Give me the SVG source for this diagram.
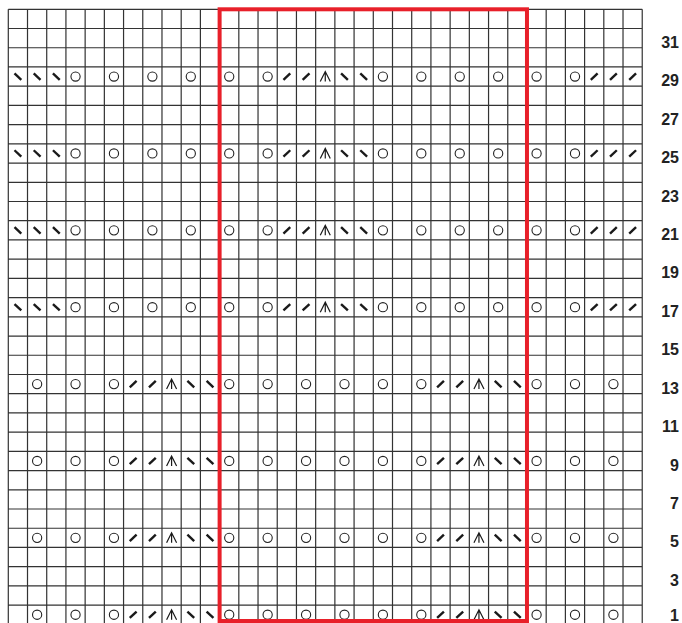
<svg xmlns="http://www.w3.org/2000/svg" xmlns:xlink="http://www.w3.org/1999/xlink" width="682" height="623" viewBox="0 0 682 623">
<style>
.grid{fill:none;stroke:#333;stroke-width:1.2}
.yo{fill:none;stroke:#222;stroke-width:1.1}
.dec{fill:none;stroke:#1a1a1a;stroke-width:2.4;stroke-linecap:butt}
.cdd{fill:none;stroke:#1a1a1a;stroke-width:1.2}
.lbl{font-family:"Liberation Sans",Arial,sans-serif;font-weight:bold;font-size:16px;fill:#222;text-anchor:end}
.frame{fill:none;stroke:#e8202a;stroke-width:4}
</style>
<defs>
<circle id="o" r="4.6" class="yo"/>
<path id="k" d="M-3.4,3.2 L3.4,-3.2" class="dec"/>
<path id="s" d="M-3.4,-3.2 L3.4,3.2" class="dec"/>
<path id="c" d="M-5,5 L0,-5 L5,5 M0,-5 V5" class="cdd"/>
<g id="rowA">
<use href="#s" x="17.9"/><use href="#s" x="37.12"/><use href="#s" x="56.33"/>
<use href="#o" x="75.54"/><use href="#o" x="113.96"/><use href="#o" x="152.38"/><use href="#o" x="190.8"/><use href="#o" x="229.22"/><use href="#o" x="267.64"/>
<use href="#k" x="286.85"/><use href="#k" x="306.06"/><use href="#c" x="325.27"/><use href="#s" x="344.48"/><use href="#s" x="363.69"/>
<use href="#o" x="382.9"/><use href="#o" x="421.32"/><use href="#o" x="459.74"/><use href="#o" x="498.16"/><use href="#o" x="536.58"/><use href="#o" x="575"/>
<use href="#k" x="594.21"/><use href="#k" x="613.42"/><use href="#k" x="632.63"/>
</g>
<g id="rowB">
<use href="#o" x="37.12"/><use href="#o" x="75.54"/><use href="#o" x="113.96"/>
<use href="#k" x="133.17"/><use href="#k" x="152.38"/><use href="#c" x="171.59"/><use href="#s" x="190.8"/><use href="#s" x="210.01"/>
<use href="#o" x="229.22"/><use href="#o" x="267.64"/><use href="#o" x="306.06"/><use href="#o" x="344.48"/><use href="#o" x="382.9"/><use href="#o" x="421.32"/>
<use href="#k" x="440.53"/><use href="#k" x="459.74"/><use href="#c" x="478.95"/><use href="#s" x="498.16"/><use href="#s" x="517.37"/>
<use href="#o" x="536.58"/><use href="#o" x="575"/><use href="#o" x="613.42"/>
</g>
</defs>
<rect width="682" height="623" fill="#fff"/>
<g id="grid">
<path class="grid" d="M8.3,9.3V624.34 M27.51,9.3V624.34 M46.72,9.3V624.34 M65.93,9.3V624.34 M85.14,9.3V624.34 M104.35,9.3V624.34 M123.56,9.3V624.34 M142.77,9.3V624.34 M161.98,9.3V624.34 M181.19,9.3V624.34 M200.4,9.3V624.34 M219.61,9.3V624.34 M238.82,9.3V624.34 M258.03,9.3V624.34 M277.24,9.3V624.34 M296.45,9.3V624.34 M315.66,9.3V624.34 M334.87,9.3V624.34 M354.08,9.3V624.34 M373.29,9.3V624.34 M392.5,9.3V624.34 M411.71,9.3V624.34 M430.92,9.3V624.34 M450.13,9.3V624.34 M469.34,9.3V624.34 M488.55,9.3V624.34 M507.76,9.3V624.34 M526.97,9.3V624.34 M546.18,9.3V624.34 M565.39,9.3V624.34 M584.6,9.3V624.34 M603.81,9.3V624.34 M623.02,9.3V624.34 M642.23,9.3V624.34
M8.3,9.3H642.23 M8.3,28.52H642.23 M8.3,47.74H642.23 M8.3,66.96H642.23 M8.3,86.18H642.23 M8.3,105.4H642.23 M8.3,124.62H642.23 M8.3,143.84H642.23 M8.3,163.06H642.23 M8.3,182.28H642.23 M8.3,201.5H642.23 M8.3,220.72H642.23 M8.3,239.94H642.23 M8.3,259.16H642.23 M8.3,278.38H642.23 M8.3,297.6H642.23 M8.3,316.82H642.23 M8.3,336.04H642.23 M8.3,355.26H642.23 M8.3,374.48H642.23 M8.3,393.7H642.23 M8.3,412.92H642.23 M8.3,432.14H642.23 M8.3,451.36H642.23 M8.3,470.58H642.23 M8.3,489.8H642.23 M8.3,509.02H642.23 M8.3,528.24H642.23 M8.3,547.46H642.23 M8.3,566.68H642.23 M8.3,585.9H642.23 M8.3,605.12H642.23 M8.3,624.34H642.23"/>
</g>
<g id="stitches">
<use id="row29" href="#rowA" y="76.57"/>
<use id="row25" href="#rowA" y="153.45"/>
<use id="row21" href="#rowA" y="230.33"/>
<use id="row17" href="#rowA" y="307.21"/>
<use id="row13" href="#rowB" y="384.09"/>
<use id="row9" href="#rowB" y="460.97"/>
<use id="row5" href="#rowB" y="537.85"/>
<use id="row1" href="#rowB" y="614.73"/>
</g>
<g id="repeat">
<rect class="frame" x="219.61" y="9.3" width="307.36" height="611.7"/>
</g>
<g id="labels">
<text class="lbl" x="679" y="47.74">31</text>
<text class="lbl" x="679" y="86.18">29</text>
<text class="lbl" x="679" y="124.62">27</text>
<text class="lbl" x="679" y="163.06">25</text>
<text class="lbl" x="679" y="201.5">23</text>
<text class="lbl" x="679" y="239.94">21</text>
<text class="lbl" x="679" y="278.38">19</text>
<text class="lbl" x="679" y="316.82">17</text>
<text class="lbl" x="679" y="355.26">15</text>
<text class="lbl" x="679" y="393.7">13</text>
<text class="lbl" x="679" y="432.14">11</text>
<text class="lbl" x="679" y="470.58">9</text>
<text class="lbl" x="679" y="509.02">7</text>
<text class="lbl" x="679" y="547.46">5</text>
<text class="lbl" x="679" y="585.9">3</text>
<text class="lbl" x="679" y="621">1</text>
</g>
</svg>
